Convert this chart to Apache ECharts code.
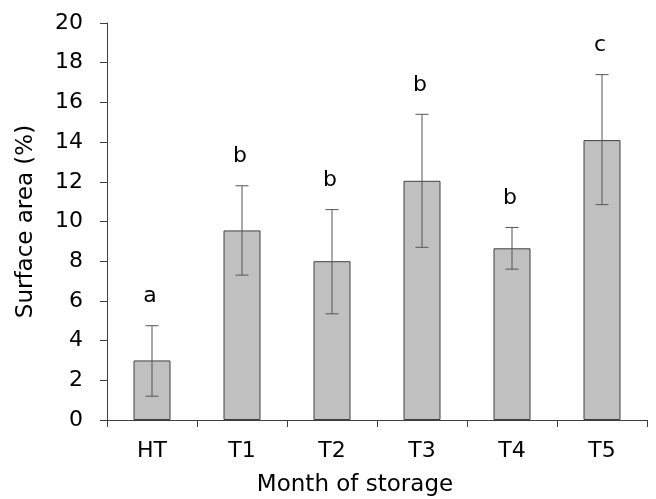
<!DOCTYPE html>
<html>
<head>
    <meta charset="utf-8" />
    <title>Surface area</title>
    <script src="https://cdn.jsdelivr.net/npm/echarts@6/dist/echarts.min.js"></script>
</head>
<body style="margin:0;">
    <div style="width:656px;height:499px;" id="echart"></div>
</body>
</html>
<script>
    var months = ['HT', 'T1', 'T2', 'T3', 'T4', 'T5'];
    var means = [3.0, 9.55, 8.0, 12.05, 8.65, 14.1];
    var lows = [1.2, 7.3, 5.35, 8.7, 7.6, 10.85];
    var highs = [4.75, 11.8, 10.6, 15.4, 9.7, 17.4];
    var letters = ['a', 'b', 'b', 'b', 'b', 'c'];

    var font = 'DejaVu Sans, sans-serif';
    var myChart = echarts.init(document.getElementById('echart'));

    var errData = months.map(function (m, i) {
        return [i, lows[i], highs[i]];
    });

    var option = {
        animation: false,
        grid: { left: 107, right: 9, top: 23, bottom: 79, outerBoundsMode: 'none' },
        xAxis: {
            type: 'category',
            data: months,
            name: 'Month of storage',
            nameLocation: 'middle',
            nameGap: 54,
            // title sits a little left of the plot centre in the original
            nameTextStyle: { fontFamily: font, fontSize: 23, color: '#000', padding: [0, 44, 0, 0] },
            axisLine: { lineStyle: { color: '#404040', width: 1 } },
            axisTick: { show: true, length: 7, lineStyle: { color: '#404040' } },
            axisLabel: { fontFamily: font, fontSize: 22, color: '#000', margin: 20 }
        },
        yAxis: {
            type: 'value',
            min: 0,
            max: 20,
            interval: 2,
            name: 'Surface area (%)',
            nameLocation: 'middle',
            nameGap: 69,
            nameTextStyle: { fontFamily: font, fontSize: 23, color: '#000' },
            axisLine: { show: true, lineStyle: { color: '#404040', width: 1 } },
            axisTick: { show: true, length: 7, lineStyle: { color: '#404040' } },
            axisLabel: { fontFamily: font, fontSize: 22, color: '#000', margin: 24 },
            splitLine: { show: false }
        },
        series: [{
            type: 'bar',
            data: means,
            barWidth: 37,
            itemStyle: { color: '#c0c0c0', borderColor: '#404040', borderWidth: 1 }
        }, {
            type: 'custom',
            data: errData,
            encode: { x: 0, y: [1, 2] },
            z: 10,
            renderItem: function (params, api) {
                var x = api.coord([api.value(0), 0])[0];
                var lo = api.coord([api.value(0), api.value(1)])[1];
                var hi = api.coord([api.value(0), api.value(2)])[1];
                var half = 6.5;
                var st = { stroke: '#555', lineWidth: 1 };
                return {
                    type: 'group',
                    children: [
                        { type: 'line', shape: { x1: x, y1: hi, x2: x, y2: lo }, style: st },
                        { type: 'line', shape: { x1: x - half, y1: hi, x2: x + half, y2: hi }, style: st },
                        { type: 'line', shape: { x1: x - half, y1: lo, x2: x + half, y2: lo }, style: st },
                        {
                            type: 'text',
                            style: {
                                text: letters[params.dataIndex],
                                x: x - 2, y: hi - 18,
                                textAlign: 'center', textVerticalAlign: 'bottom',
                                font: '22px ' + font, fill: '#000'
                            }
                        }
                    ]
                };
            }
        }]
    };
    myChart.setOption(option);
</script>
